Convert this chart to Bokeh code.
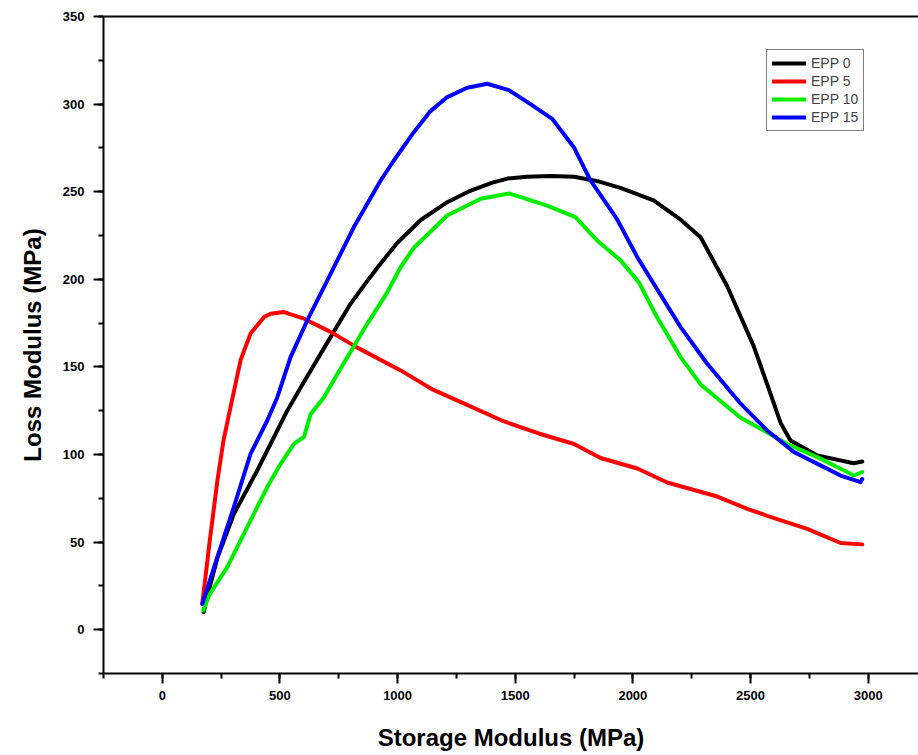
from bokeh.plotting import figure
from bokeh.models import (Range1d, LinearAxis, SingleIntervalTicker, FixedTicker,
                          Legend, LegendItem)
from bokeh.embed import file_html
from bokeh.resources import INLINE

# ---- data (Storage modulus MPa, Loss modulus MPa) ----
epp0_x = [176, 191, 234, 304, 400, 460, 531, 600, 715, 800, 871, 928, 1000, 1100, 1211,
          1300, 1400, 1466, 1550, 1650, 1750, 1850, 1950, 2088, 2203, 2288, 2401, 2513,
          2571, 2628, 2670, 2784, 2938, 2975]
epp0_y = [10, 19, 41, 66, 90, 106, 125, 141, 167, 186, 199, 209, 221, 234, 244,
          250, 255, 257.5, 258.5, 259, 258.5, 256, 252, 245, 234, 224, 196, 162,
          140, 118, 108, 99.5, 95, 96]

epp5_x = [170, 201, 234, 260, 290, 333, 375, 432, 460, 517, 602, 715, 829, 1013, 1150,
          1300, 1450, 1600, 1750, 1863, 2019, 2146, 2359, 2486, 2571, 2741, 2883, 2975]
epp5_y = [15, 50, 85, 108, 127, 154, 169, 178.4, 180.3, 181.3, 177.5, 170, 161, 148, 137,
          128, 119, 112, 106, 98, 92, 84, 76, 69, 65, 57.6, 49.5, 48.7]

epp10_x = [174, 200, 276, 375, 446, 503, 559, 602, 630, 687, 744, 871, 956, 1013, 1069,
           1211, 1353, 1473, 1636, 1756, 1849, 1948, 2025, 2104, 2203, 2288, 2458, 2543,
           2656, 2784, 2883, 2939, 2975]
epp10_y = [11, 20, 35.7, 62.4, 81.4, 94.7, 106, 110, 123, 132.7, 146, 174.6, 192.5, 207, 218,
           236.4, 246, 249, 242, 235.5, 222, 210.8, 198.4, 178, 155.6, 140, 121, 114.7,
           106, 98.5, 91.9, 88, 90]

epp15_x = [170, 234, 304, 375, 446, 489, 545, 616, 701, 815, 928, 984, 1069, 1140, 1211,
           1296, 1381, 1473, 1565, 1657, 1749, 1820, 1934, 2019, 2203, 2316, 2458, 2571,
           2684, 2812, 2883, 2968, 2975]
epp15_y = [14.8, 41.4, 70, 100.4, 119.4, 132.7, 155.6, 176.5, 199.3, 230, 256.4, 267.8, 284,
           296, 304, 309.3, 311.6, 308, 300, 291.6, 275.4, 256.4, 234, 212.6, 172.7, 151.8,
           129, 113.7, 101.4, 92.8, 88, 84.2, 86]

series_names = ["EPP 0", "EPP 5", "EPP 10", "EPP 15"]
series_colors = ["#000000", "#ff0000", "#00ee00", "#0000ff"]

x_ticks_major = 500
y_ticks_major = 50

FONT = "Liberation Sans"

p = figure(width=918, height=755, output_backend="svg", toolbar_location=None,
           x_range=Range1d(-250, 3214), y_range=Range1d(-25, 350),
           min_border_left=103, min_border_right=0, min_border_top=16,
           min_border_bottom=82)
p.outline_line_color = None
p.xgrid.visible = False
p.ygrid.visible = False
p.background_fill_color = "white"
p.border_fill_color = "white"

p.xaxis.ticker = SingleIntervalTicker(interval=x_ticks_major, num_minor_ticks=2)
p.yaxis.ticker = SingleIntervalTicker(interval=y_ticks_major, num_minor_ticks=2)

for ax in (p.xaxis[0], p.yaxis[0]):
    ax.axis_line_width = 2
    ax.axis_line_color = "black"
    ax.major_tick_line_width = 2
    ax.minor_tick_line_width = 2
    ax.major_tick_in = 0
    ax.major_tick_out = 10
    ax.minor_tick_in = 0
    ax.minor_tick_out = 5
    ax.major_label_text_font = FONT
    ax.major_label_text_font_style = "bold"
    ax.major_label_text_font_size = "13px"
    ax.major_label_text_color = "black"
    ax.axis_label_text_font = FONT
    ax.axis_label_text_font_style = "bold"
    ax.axis_label_text_font_size = "24px"
    ax.axis_label_text_color = "black"

p.xaxis.axis_label = "Storage Modulus (MPa)"
p.yaxis.axis_label = "Loss Modulus (MPa)"
p.xaxis.major_label_standoff = 7
p.xaxis.axis_label_standoff = 21
p.yaxis.major_label_standoff = 9
p.yaxis.axis_label_standoff = 14

top = LinearAxis(ticker=FixedTicker(ticks=[]), axis_line_width=2, axis_line_color="black",
                 major_tick_out=0, major_tick_in=0, minor_tick_out=0, minor_tick_in=0,
                 major_label_text_font_size="0px")
p.add_layout(top, "above")

renderers = []
for xs, ys, c in zip([epp0_x, epp5_x, epp10_x, epp15_x],
                     [epp0_y, epp5_y, epp10_y, epp15_y], series_colors):
    r = p.line(xs, ys, line_color=c, line_width=4, line_join="round", line_cap="round")
    renderers.append(r)

legend = Legend(items=[LegendItem(label=n, renderers=[r]) for n, r in zip(series_names, renderers)],
                location=(663, 542), padding=5, spacing=2, label_height=16, glyph_height=16,
                glyph_width=34, label_standoff=5, margin=0,
                label_text_font=FONT, label_text_font_size="14px",
                border_line_color="black", border_line_width=1,
                background_fill_color="white", background_fill_alpha=1)
p.add_layout(legend)

open("out.html", "w").write(file_html(p, INLINE))
